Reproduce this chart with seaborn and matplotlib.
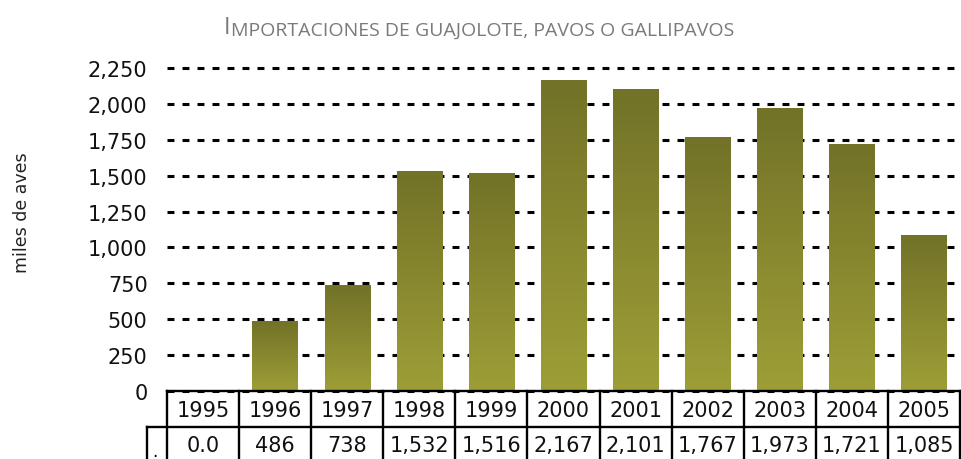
import numpy as np
import pandas as pd
import matplotlib
matplotlib.use("Agg")
import matplotlib.pyplot as plt
import seaborn as sns
from matplotlib import transforms
from matplotlib.lines import Line2D
from matplotlib.colors import LinearSegmentedColormap

# ---- data ----
years = ["1995", "1996", "1997", "1998", "1999", "2000", "2001", "2002", "2003", "2004", "2005"]
values = [0.0, 486, 738, 1532, 1516, 2167, 2101, 1767, 1973, 1721, 1085]
value_labels = ["0.0", "486", "738", "1,532", "1,516", "2,167", "2,101", "1,767", "1,973", "1,721", "1,085"]
yticks = [0, 250, 500, 750, 1000, 1250, 1500, 1750, 2000, 2250]
ytick_labels = ["0", "250", "500", "750", "1,000", "1,250", "1,500", "1,750", "2,000", "2,250"]
title_first = "I"
title_rest = "MPORTACIONES DE GUAJOLOTE, PAVOS O GALLIPAVOS"
ylabel = "miles de aves"
series_label = "."

sns.set_theme(style="white")
plt.rcParams["font.family"] = ["DejaVu Sans"]
plt.rcParams["lines.scale_dashes"] = False

W, H = 961, 460
fig = plt.figure(figsize=(W / 100, H / 100), dpi=100)
ax = fig.add_axes([167 / W, 1 - 392 / H, (960 - 167) / W, (392 - 69) / H])

df = pd.DataFrame({"year": years, "value": values})
sns.barplot(data=df, x="year", y="value", ax=ax, width=0.63, color="#888830",
            saturation=1, zorder=2, linewidth=0)

# gradient fill clipped to each bar
cmap = LinearSegmentedColormap.from_list("olive", ["#9e9e37", "#727228"])
grad = np.linspace(0, 1, 256).reshape(-1, 1)
for p in list(ax.patches):
    h = p.get_height()
    if h <= 0:
        continue
    x = p.get_x()
    w = p.get_width()
    im = ax.imshow(grad, extent=[x, x + w, 0, h], origin="lower", aspect="auto",
                   cmap=cmap, zorder=3, interpolation="bilinear")
    im.set_clip_path(p)
    p.set_facecolor("none")

ax.set_xlim(-0.5, 10.5)
ax.set_ylim(0, 2250)
ax.set_yticks(yticks)
ax.set_yticklabels(ytick_labels, fontsize=15, color="#111111")
ax.tick_params(axis="y", length=0, pad=14)
ax.tick_params(axis="x", length=0, labelbottom=False)
ax.set_xlabel("")
ax.set_ylabel("")
for s in ax.spines.values():
    s.set_visible(False)

ax.set_axisbelow(True)
ax.grid(axis="y", color="black", linewidth=2.2, linestyle=(0, (5, 5.8)))
ax.grid(axis="x", visible=False)
for gl in ax.get_ygridlines():
    gl.set_clip_on(False)

# y label
fig.text(22 / W, 1 - 213 / H, ylabel, rotation=90, ha="center", va="center",
         fontsize=12.5, color="#222222")

# title (small caps imitation)
t1 = fig.text(224 / W, 1 - 34 / H, title_first, ha="left", va="baseline",
              fontsize=17, color="#7a7a7a", family="Open Sans")
fig.canvas.draw()
ax.annotate(title_rest, xy=(1, 0), xycoords=t1, xytext=(0.6, 0), textcoords="offset points",
            ha="left", va="bottom", fontsize=14, color="#7a7a7a", family="Open Sans",
            annotation_clip=False)

# data table below the axis
tr = transforms.blended_transform_factory(ax.transData, fig.transFigure)
y0, y1, y2 = 1 - 392 / H, 1 - 428 / H, 1 - 480 / H
lw = 1.7
n = len(years)
def line(xs, ys, transform):
    fig.add_artist(Line2D(xs, ys, transform=transform, color="black", lw=lw,
                          solid_capstyle="projecting", clip_on=False))

line([-0.5, n - 0.5], [y0, y0], tr)
line([147 / W, 960 / W], [y1, y1], fig.transFigure)
line([147 / W, 147 / W], [y1, y2], fig.transFigure)
for i in range(n + 1):
    line([i - 0.5, i - 0.5], [y0, y2], tr)

for i, (yr, lab) in enumerate(zip(years, value_labels)):
    fig.text(i, 1 - 411 / H, yr, transform=tr, ha="center", va="center", fontsize=15, color="#111111")
    fig.text(i, 1 - 446 / H, lab, transform=tr, ha="center", va="center", fontsize=15, color="#111111")
fig.text(155 / W, 1 - 452 / H, series_label, ha="center", va="center", fontsize=12, color="black")

fig.savefig("out.png", dpi=100)
